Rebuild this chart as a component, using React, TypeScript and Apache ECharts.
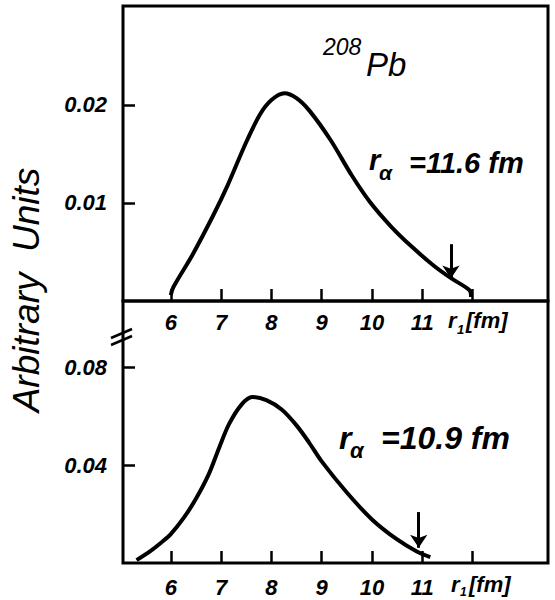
import React, { useEffect, useRef } from "react";
import * as echarts from "echarts";

const xTicks = [6, 7, 8, 9, 10, 11, 12];
const xLabels = [6, 7, 8, 9, 10, 11];
const topYTicks = [0.01, 0.02];
const bottomYTicks = [0.04, 0.08];

const topCurve: [number, number][] = [
  [6.0, 0.0006], [6.05, 0.0014], [6.43, 0.0047], [6.85, 0.0088], [7.13, 0.0118],
  [7.49, 0.0161], [7.77, 0.0190], [8.0, 0.0205], [8.26, 0.0212], [8.5, 0.0207],
  [8.76, 0.0194], [9.18, 0.0164], [9.6, 0.0128], [9.96, 0.0101], [10.38, 0.0076],
  [10.8, 0.0055], [11.23, 0.0036], [11.58, 0.0023], [11.94, 0.0011], [11.97, 0.0004],
];

const bottomCurve: [number, number][] = [
  [5.32, 0.0012], [5.6, 0.005], [5.8, 0.0082], [6.0, 0.0118], [6.26, 0.0185],
  [6.5, 0.0262], [6.76, 0.0365], [6.96, 0.0470], [7.16, 0.0568], [7.41, 0.0648],
  [7.62, 0.0678], [7.9, 0.0665], [8.21, 0.0626], [8.5, 0.0562], [8.75, 0.0492],
  [9.0, 0.0415], [9.5, 0.0288], [10.0, 0.0178], [10.5, 0.0096], [10.9, 0.0046],
  [11.16, 0.0024],
];

// [x, yStart, yEnd]
const topArrow = [11.57, 0.0058, 0.0023];
const bottomArrow = [10.93, 0.0208, 0.0062];

const FONT = "Liberation Sans";

export default function App() {
  const ref = useRef<HTMLDivElement>(null);
  useEffect(() => {
    if (!ref.current) return;
    const chart = echarts.init(ref.current, null, { renderer: "svg" });
    const xAxisBase = (gridIndex: number, margin: number) => ({
      type: "value",
      gridIndex,
      min: 5.05,
      max: 13.5,
      position: "bottom",
      axisLine: { show: false },
      splitLine: { show: false },
      axisTick: {
        inside: true,
        length: 12,
        customValues: xTicks,
        lineStyle: { color: "#000", width: 2.5 },
      },
      axisLabel: {
        customValues: xLabels,
        margin,
        color: "#000",
        fontFamily: FONT,
        fontStyle: "italic",
        fontWeight: "bold",
        fontSize: 22,
      },
    });
    const yAxisBase = (gridIndex: number, max: number, ticks: number[]) => ({
      type: "value",
      gridIndex,
      min: 0,
      max,
      axisLine: { show: false },
      splitLine: { show: false },
      axisTick: {
        inside: true,
        length: 12,
        customValues: ticks,
        lineStyle: { color: "#000", width: 2.5 },
      },
      axisLabel: {
        customValues: ticks,
        margin: 16,
        color: "#000",
        fontFamily: FONT,
        fontStyle: "italic",
        fontWeight: "bold",
        fontSize: 22,
        formatter: (v: number) => String(v),
      },
    });
    const arrowMark = (a: number[]) => ({
      silent: true,
      symbol: ["none", "arrow"],
      symbolSize: 13,
      label: { show: false },
      itemStyle: { color: "#000" },
      lineStyle: { color: "#000", width: 3, type: "solid" },
      data: [[{ coord: [a[0], a[1]] }, { coord: [a[0], a[2]] }]],
    });
    const txt = (x: number, y: number, text: string, size: number, extra: any = {}) => ({
      type: "text",
      x,
      y,
      style: {
        text,
        fill: "#000",
        fontFamily: FONT,
        fontStyle: "italic",
        fontWeight: "bold",
        fontSize: size,
        verticalAlign: "middle",
        align: "left",
        ...extra,
      },
    });
    chart.setOption({
      animation: false,
      backgroundColor: "#fff",
      grid: [
        { left: 123, top: 6, width: 425, height: 295, show: true, borderColor: "#000", borderWidth: 3, backgroundColor: "transparent" },
        { left: 123, top: 301, width: 425, height: 262, show: true, borderColor: "#000", borderWidth: 3, backgroundColor: "transparent" },
      ],
      xAxis: [xAxisBase(0, 10), xAxisBase(1, 13)],
      yAxis: [yAxisBase(0, 0.0301, topYTicks), yAxisBase(1, 0.107, bottomYTicks)],
      series: [
        {
          type: "line",
          xAxisIndex: 0,
          yAxisIndex: 0,
          data: topCurve,
          smooth: 0.3,
          showSymbol: false,
          lineStyle: { color: "#000", width: 4 },
          markLine: arrowMark(topArrow),
        },
        {
          type: "line",
          xAxisIndex: 1,
          yAxisIndex: 1,
          data: bottomCurve,
          smooth: 0.3,
          showSymbol: false,
          lineStyle: { color: "#000", width: 4 },
          markLine: arrowMark(bottomArrow),
        },
      ],
      graphic: [
        {
          type: "text",
          x: 26,
          y: 290,
          rotation: Math.PI / 2,
          style: {
            text: "Arbitrary  Units",
            fill: "#000",
            fontFamily: FONT,
            fontStyle: "italic",
            fontSize: 37,
            align: "center",
            verticalAlign: "middle",
          },
        },
        txt(323, 47, "208", 23, { fontWeight: "normal" }),
        txt(366, 64, "Pb", 33, { fontWeight: "normal" }),
        txt(369, 160, "r", 29),
        txt(379, 172, "α", 21),
        txt(409, 163, "=11.6 fm", 29),
        txt(339, 438, "r", 32),
        txt(350, 450, "α", 22),
        txt(381, 438, "=10.9 fm", 32),
        txt(448, 320, "r", 22),
        txt(457, 329, "1", 13),
        txt(466, 320, "[fm]", 22),
        txt(451, 584, "r", 22),
        txt(460, 592, "1", 12),
        txt(469, 584, "[fm]", 22),
        { type: "line", shape: { x1: 111, y1: 338, x2: 132, y2: 329 }, style: { stroke: "#000", lineWidth: 2.5 } },
        { type: "line", shape: { x1: 111, y1: 345, x2: 132, y2: 336 }, style: { stroke: "#000", lineWidth: 2.5 } },
      ],
    });
    return () => chart.dispose();
  }, []);
  return (
    <div
      ref={ref}
      style={{ position: "fixed", left: 0, top: 0, width: 555, height: 600, background: "#fff" }}
    />
  );
}
